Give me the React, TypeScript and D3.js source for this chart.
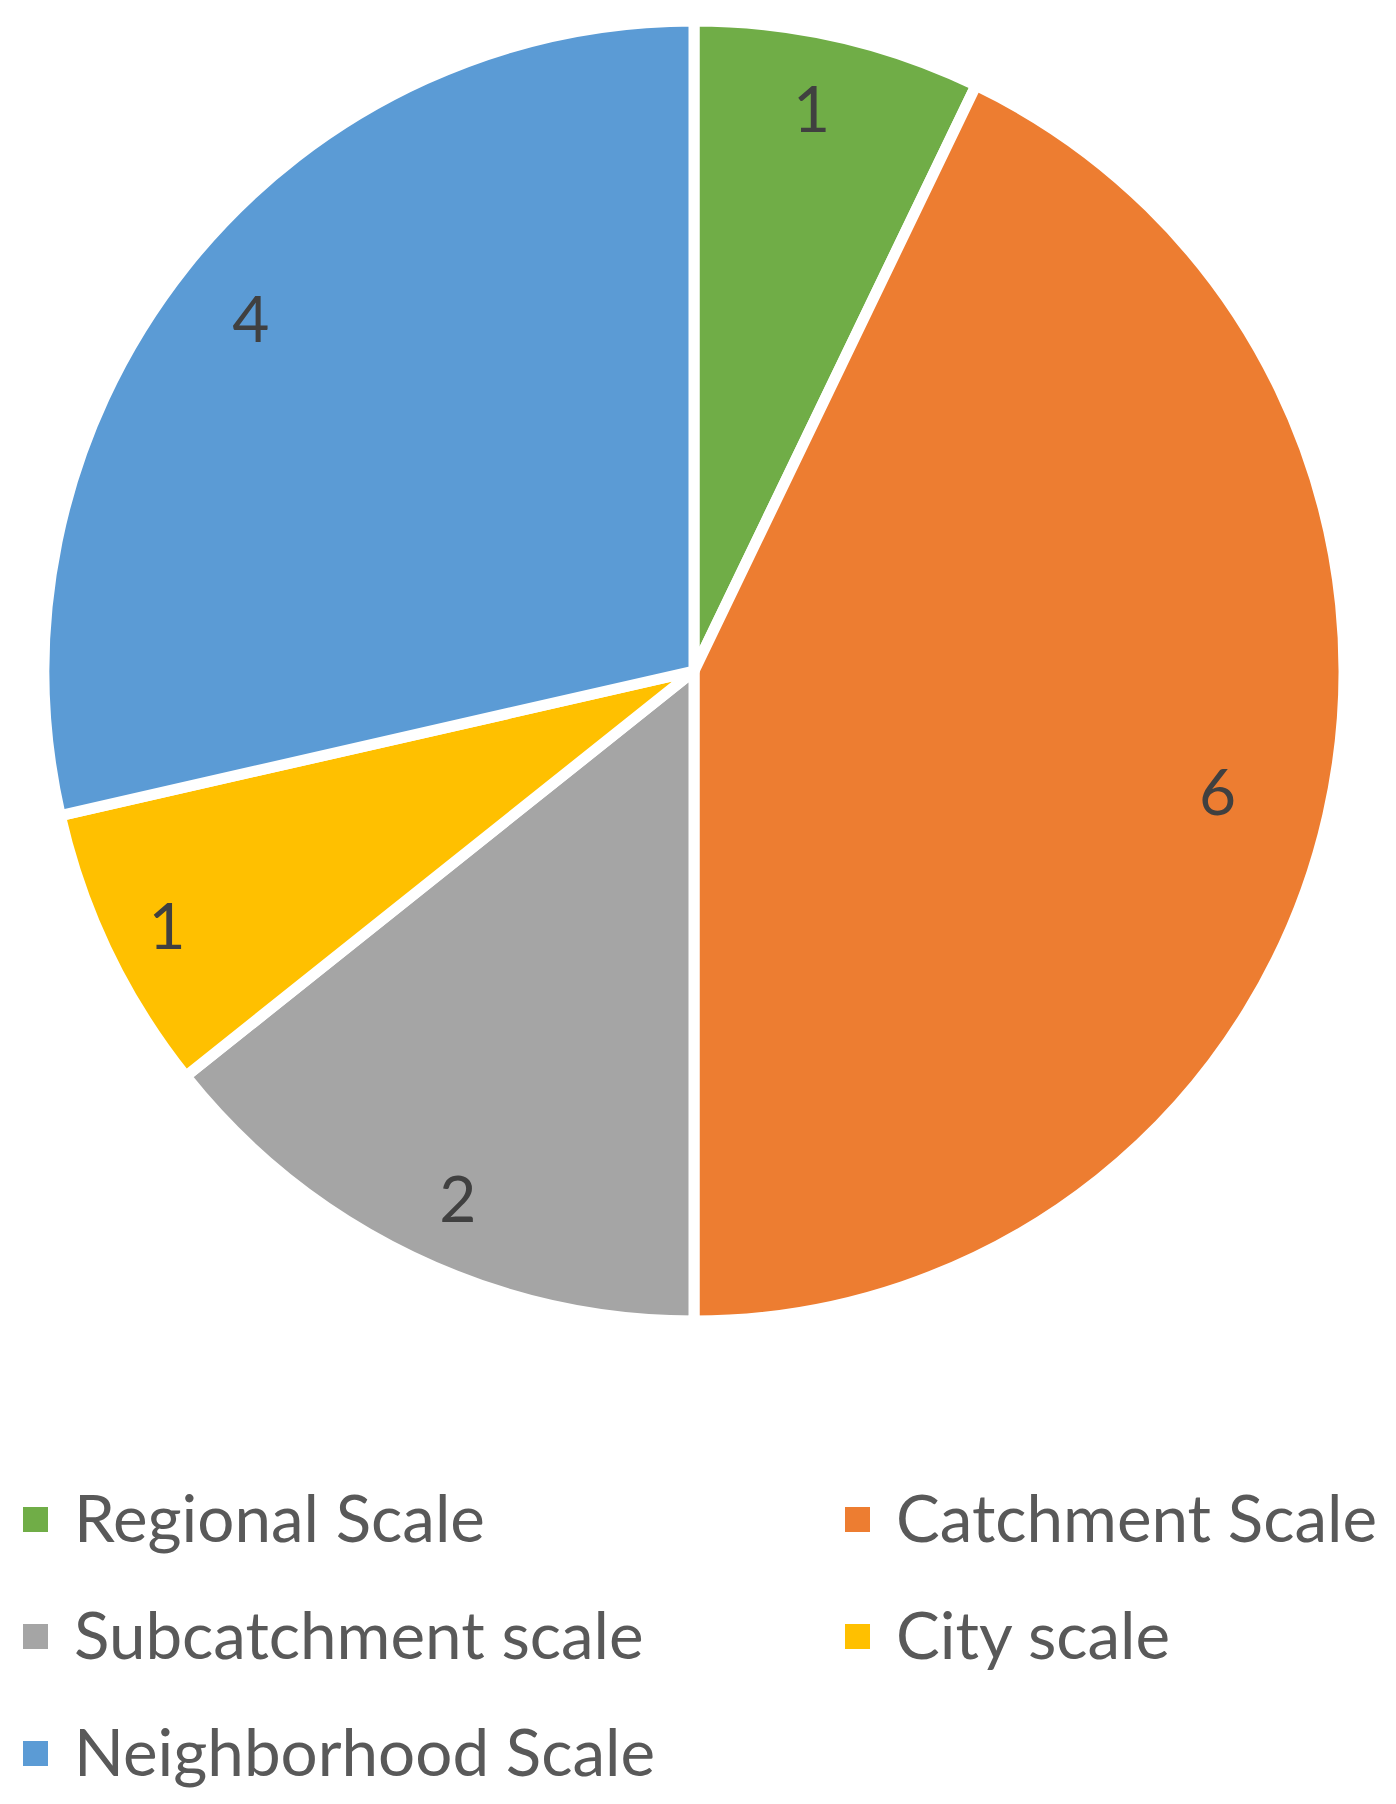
import React from "react";
import * as d3 from "d3";

const categories = ["Regional Scale", "Catchment Scale", "Subcatchment scale", "City scale", "Neighborhood Scale"];
const values = [1, 6, 2, 1, 4];
const colors = ["#70AD47", "#ED7D31", "#A5A5A5", "#FFC000", "#5B9BD5"];

// layout: best-fit data-label placement (distance from centre, angular nudge in radians)
const labelRadii = [576, 537, 577, 585, 567];
const labelAngleShift = [-0.019, 0, -0.027, 0, 0];

const W = 1396;
const H = 1796;
const cx = 694;
const cy = 671;
const R = 650;
const FONT = "Lato, 'Open Sans', sans-serif";

export default function App() {
  const pie = d3.pie<number>().sort(null).value((d) => d);
  const arcs = pie(values);
  const arcGen = d3.arc<d3.PieArcDatum<number>>().innerRadius(0).outerRadius(R);

  const legendX = [23, 845];
  const legendBase = [1542, 1659, 1776];

  return (
    <svg width={W} height={H} style={{ display: "block", margin: "-8px 0 0 -8px" }}>
      <rect width={W} height={H} fill="#fff" />
      <g transform={`translate(${cx},${cy})`}>
        {arcs.map((a, i) => (
          <path key={i} d={arcGen(a) || ""} fill={colors[i]} stroke="#fff" strokeWidth={11} strokeLinejoin="round" />
        ))}
        {arcs.map((a, i) => {
          const lr = labelRadii[i];
          const shifted = {
            ...a,
            startAngle: a.startAngle + labelAngleShift[i],
            endAngle: a.endAngle + labelAngleShift[i],
          };
          const [x, y] = d3.arc<d3.PieArcDatum<number>>().innerRadius(lr).outerRadius(lr).centroid(shifted);
          return (
            <text key={i} x={x} y={y} textAnchor="middle" dominantBaseline="central" fontFamily={FONT} fontSize={64} fill="#404040">
              {values[i]}
            </text>
          );
        })}
      </g>
      {categories.map((c, i) => {
        const col = i % 2;
        const row = Math.floor(i / 2);
        const x = legendX[col];
        const y = legendBase[row];
        return (
          <g key={c}>
            <rect x={x} y={y - 35} width={25} height={25} fill={colors[i]} />
            <text x={x + 51} y={y} fontFamily={FONT} fontSize={65.5} fill="#595959">
              {c}
            </text>
          </g>
        );
      })}
    </svg>
  );
}
